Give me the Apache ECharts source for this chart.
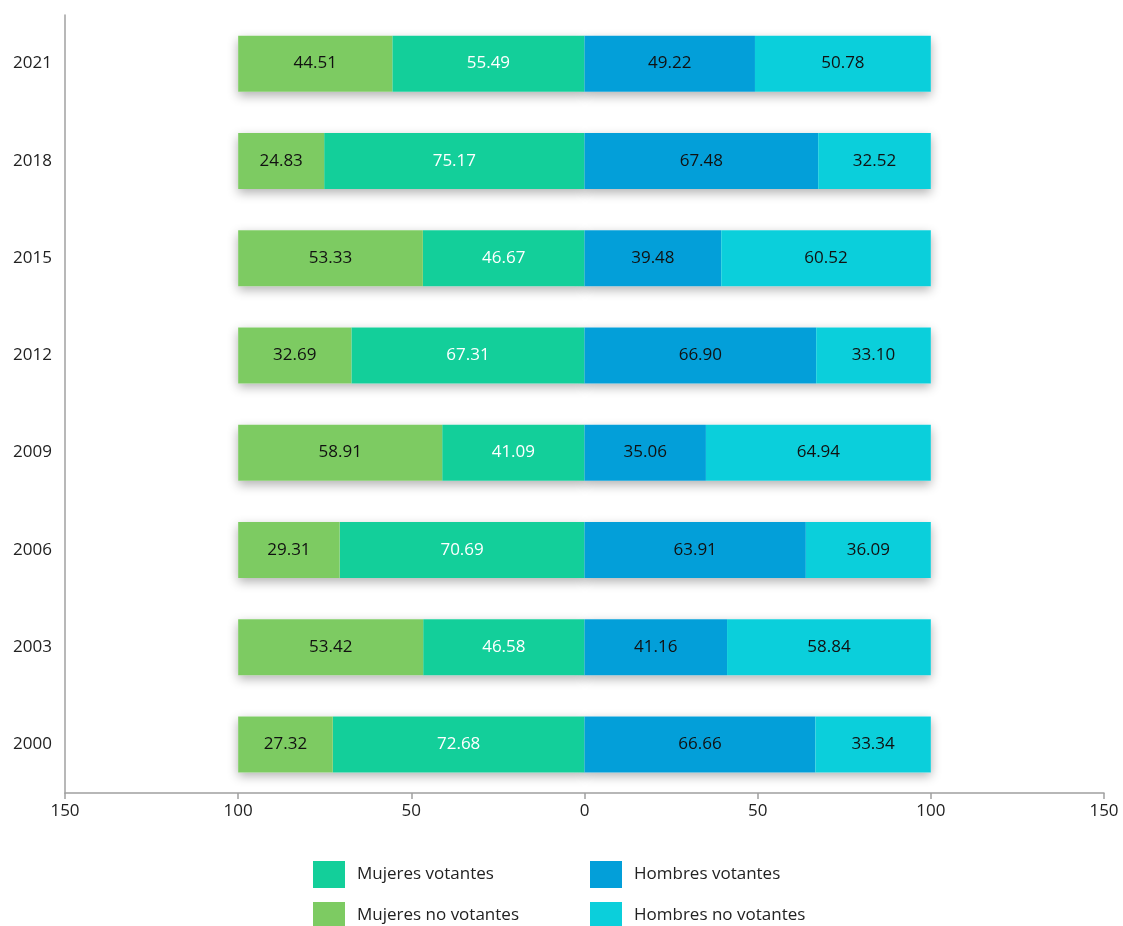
<!DOCTYPE html>
<html>
<head>
<meta charset="utf-8">
<script src="https://cdn.jsdelivr.net/npm/echarts@6/dist/echarts.min.js"></script>
<style>
  html, body { margin: 0; padding: 0; background: #fff; }
  #chart { width: 1123px; height: 926px; }
</style>
</head>
<body>
<div id="chart"></div>
<script>
const years = ['2000', '2003', '2006', '2009', '2012', '2015', '2018', '2021'];
const mujeresVotantes = [72.68, 46.58, 70.69, 41.09, 67.31, 46.67, 75.17, 55.49];
const mujeresNoVotantes = [27.32, 53.42, 29.31, 58.91, 32.69, 53.33, 24.83, 44.51];
const hombresVotantes = [66.66, 41.16, 63.91, 35.06, 66.90, 39.48, 67.48, 49.22];
const hombresNoVotantes = [33.34, 58.84, 36.09, 64.94, 33.10, 60.52, 32.52, 50.78];

const FONT = '"Open Sans", "Noto Sans", sans-serif';
const colors = {
  mv: '#13cf9a',
  mnv: '#7dcb62',
  hv: '#039fd9',
  hnv: '#0bcfdb',
};

const chart = echarts.init(document.getElementById('chart'));

function barSeries(name, data, color, labelColor, negative) {
  return {
    name,
    type: 'bar',
    stack: 'total',
    barWidth: 56,
    barGap: '-100%',
    z: 3,
    data: negative ? data.map((v) => -v) : data,
    itemStyle: { color },
    label: {
      show: true,
      position: 'inside',
      color: labelColor,
      fontFamily: FONT,
      fontSize: 17,
      formatter: (p) => Math.abs(p.value).toFixed(2),
    },
  };
}

// shadow behind each whole half-bar, so segment joins stay clean
function shadowSeries(data) {
  return {
    type: 'bar',
    stack: 'shadow',
    barWidth: 56,
    barGap: '-100%',
    z: 1,
    silent: true,
    data,
    itemStyle: {
      color: '#ffffff',
      shadowColor: 'rgba(0, 0, 0, 0.3)',
      shadowBlur: 10,
      shadowOffsetY: 4,
    },
    label: { show: false },
    legendHoverLink: false,
  };
}

function legendItem(name, left, top) {
  return {
    data: [name],
    left,
    top,
    icon: 'rect',
    itemWidth: 32,
    itemHeight: 27,
    itemGap: 0,
    textStyle: { fontFamily: FONT, fontSize: 17, color: '#222', padding: [0, 0, 0, 7] },
    selectedMode: false,
  };
}

const leftTotals = mujeresVotantes.map((v, i) => -(v + mujeresNoVotantes[i]));
const rightTotals = hombresVotantes.map((v, i) => v + hombresNoVotantes[i]);

chart.setOption({
  animation: false,
  grid: { left: 65, right: 19, top: 15, bottom: 133, containLabel: false },
  legend: [
    legendItem('Mujeres votantes', 308, 856),
    legendItem('Hombres votantes', 585, 856),
    legendItem('Mujeres no votantes', 308, 897),
    legendItem('Hombres no votantes', 585, 897),
  ],
  xAxis: {
    type: 'value',
    min: -150,
    max: 150,
    interval: 50,
    axisLine: { show: true, lineStyle: { color: '#a0a0a0', width: 1.5 } },
    axisTick: { show: true, length: 6, lineStyle: { color: '#a0a0a0', width: 1.5 } },
    splitLine: { show: false },
    axisLabel: {
      color: '#222',
      fontFamily: FONT,
      fontSize: 17,
      margin: 10,
      formatter: (v) => String(Math.abs(v)),
    },
  },
  yAxis: {
    type: 'category',
    data: years,
    axisLine: { show: true, onZero: false, lineStyle: { color: '#a0a0a0', width: 1.5 } },
    axisTick: { show: false },
    axisLabel: { color: '#222', fontFamily: FONT, fontSize: 17, margin: 13 },
  },
  series: [
    shadowSeries(leftTotals),
    shadowSeries(rightTotals),
    barSeries('Mujeres votantes', mujeresVotantes, colors.mv, '#ffffff', true),
    barSeries('Mujeres no votantes', mujeresNoVotantes, colors.mnv, '#111111', true),
    barSeries('Hombres votantes', hombresVotantes, colors.hv, '#111111', false),
    barSeries('Hombres no votantes', hombresNoVotantes, colors.hnv, '#111111', false),
  ],
});
</script>
</body>
</html>
